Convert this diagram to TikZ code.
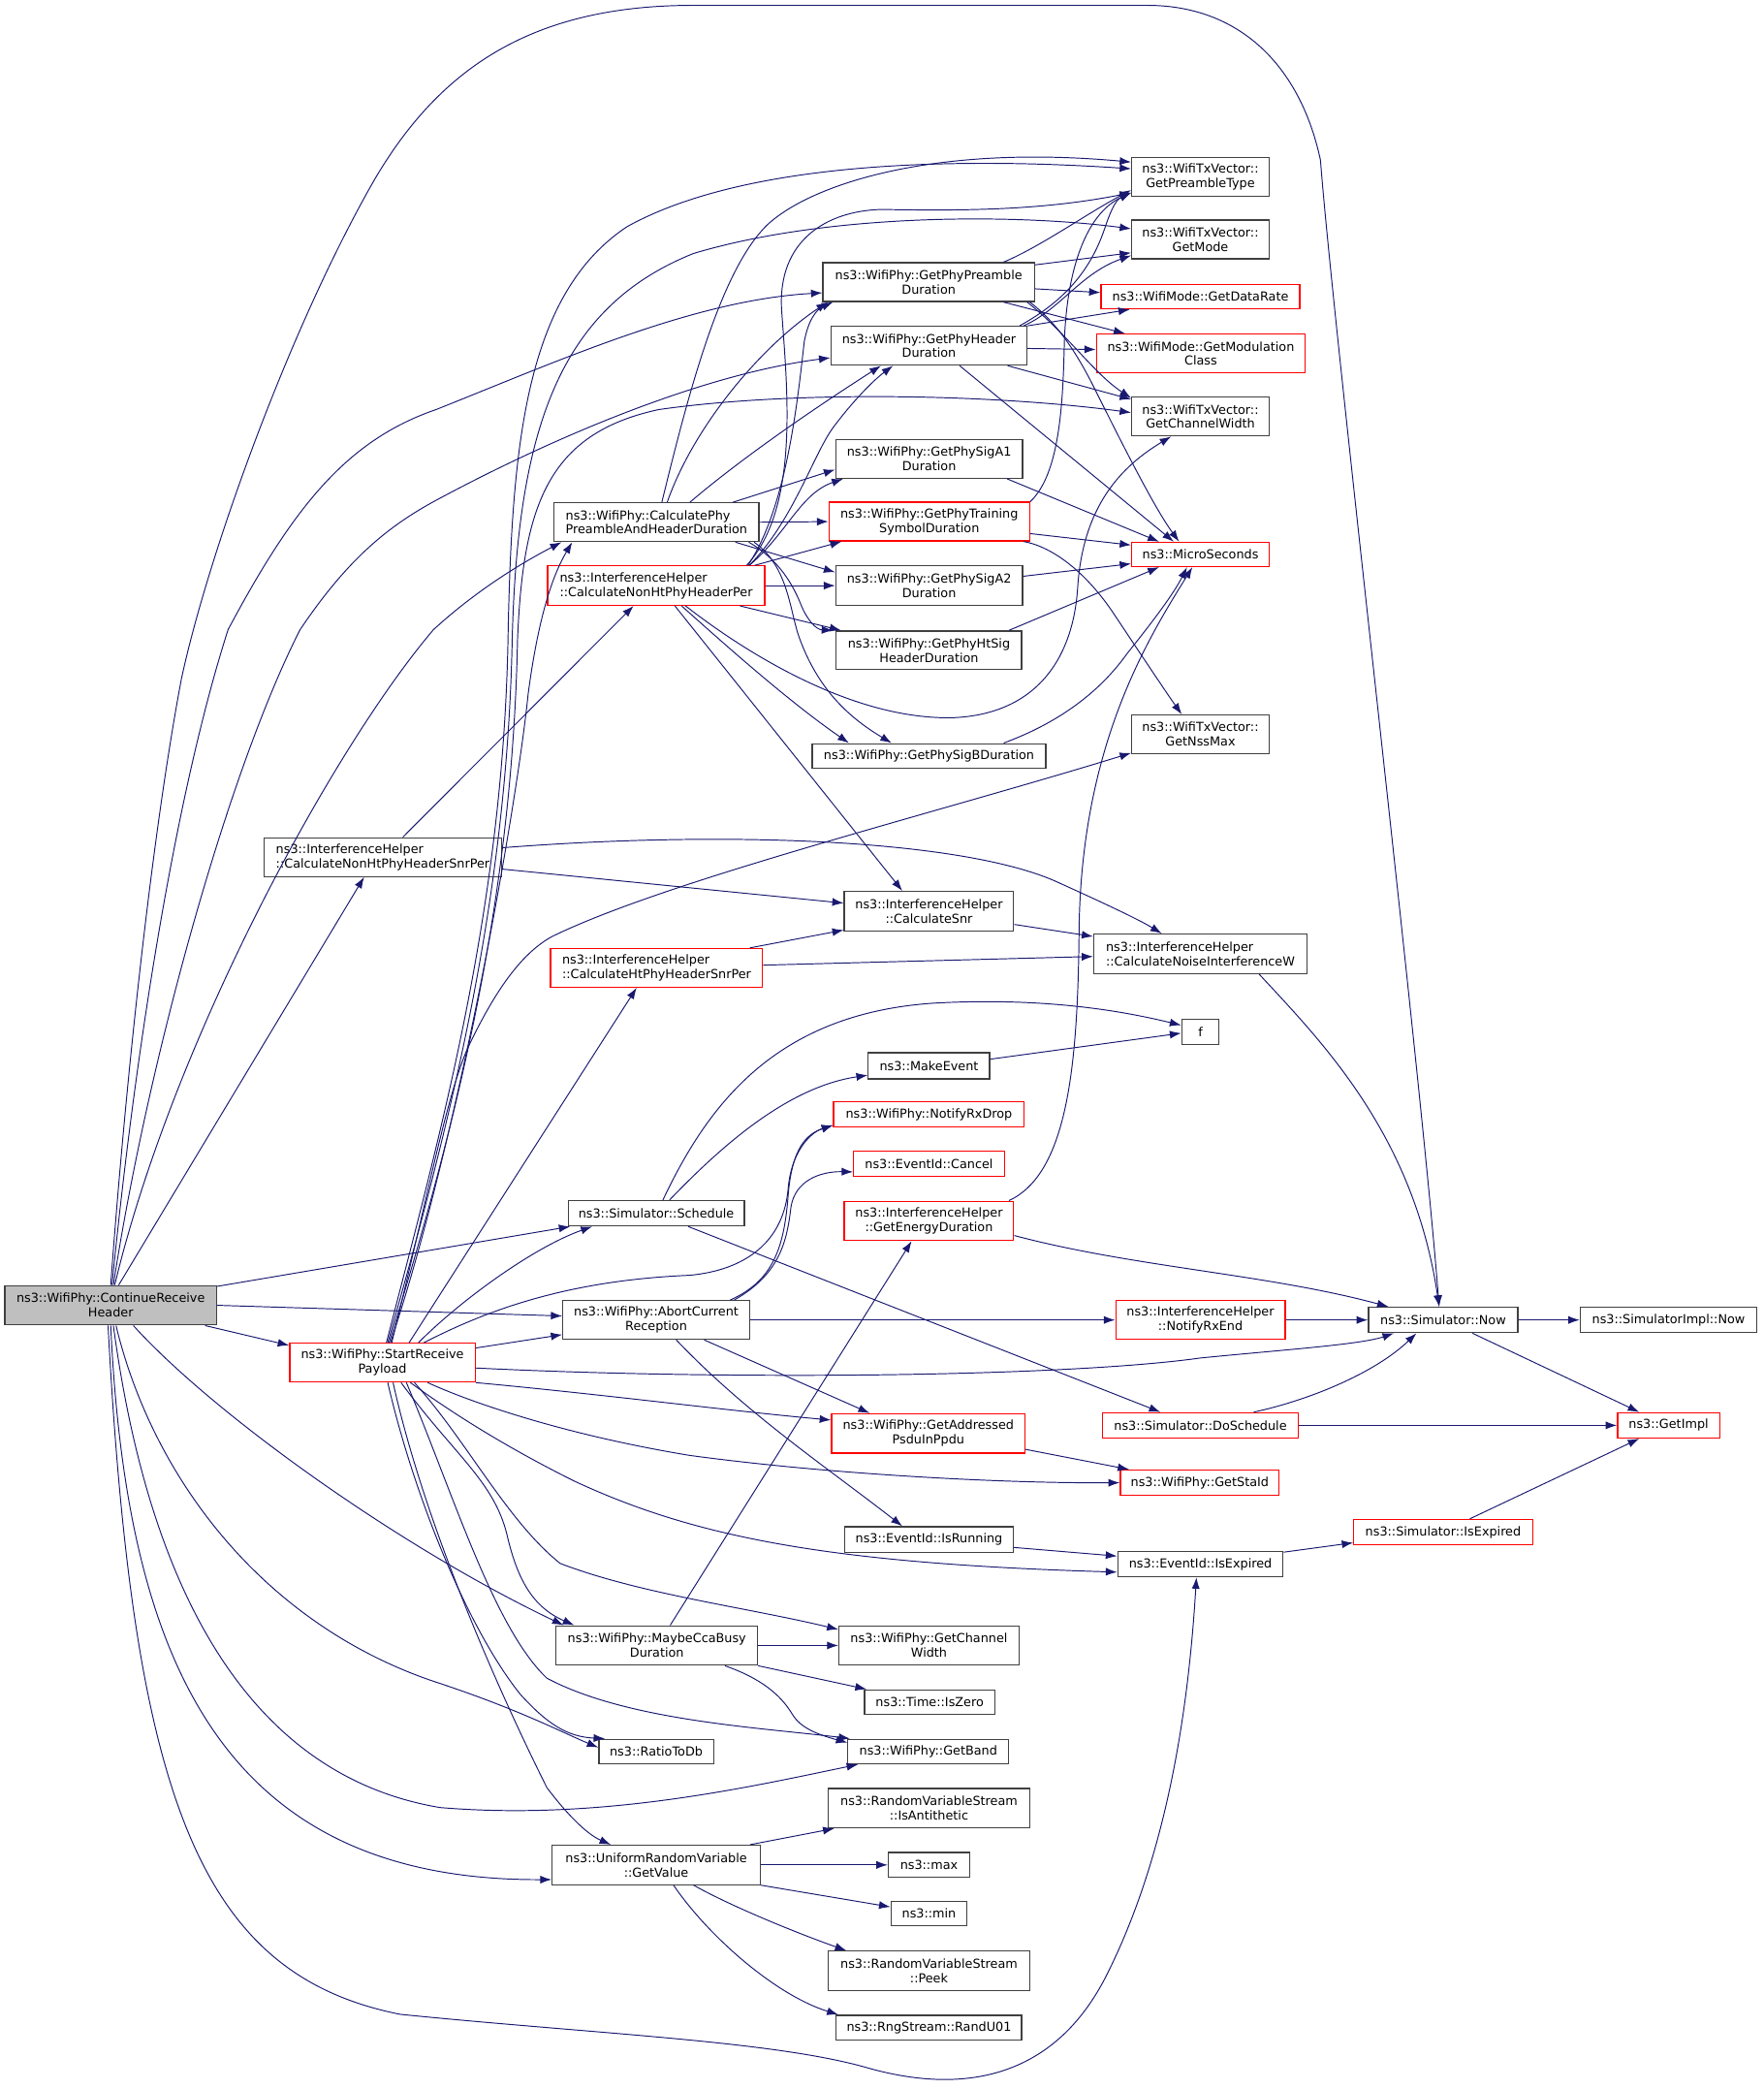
\documentclass[tikz,border=0pt]{standalone}
\usepackage{fontspec}
\setmainfont{DejaVu Sans}
\usetikzlibrary{arrows.meta}
\definecolor{dxedge}{RGB}{25,25,112}
\definecolor{dxborder}{RGB}{64,64,64}
\definecolor{dxred}{RGB}{255,0,0}
\definecolor{dxgray}{RGB}{191,191,191}
\tikzset{
  fn/.style={rectangle, draw=dxborder, line width=0.9pt, fill=white, inner sep=1pt, align=center, font=\fontsize{9.3}{10.8}\selectfont},
  fnred/.style={fn, draw=dxred},
  fncur/.style={fn, fill=dxgray},
  sz/.style 2 args={minimum width=#1pt, minimum height=#2pt},
  call/.style={draw=dxedge, line width=0.7pt, -{Latex[length=8.5pt,width=6pt]}}
}

\begin{document}
\begin{tikzpicture}[x=1pt,y=-1pt]
\useasboundingbox (0,0) rectangle (1322,1566);

% caller
\node[fncur, sz={158.7}{29.5}] (crh) at (83,978.5) {ns3::WifiPhy::ContinueReceive\\Header};

% first level
\node[fn, sz={153.5}{29}, align=left] (cpphd) at (492.2,391.5) {ns3::WifiPhy::CalculatePhy\\PreambleAndHeaderDuration};
\node[fnred, sz={162.7}{29.5}, align=left] (cnhphp) at (492,439) {ns3::InterferenceHelper\\::CalculateNonHtPhyHeaderPer};
\node[fn, sz={178}{29}, align=left] (cnhsnr) at (287,642.5) {ns3::InterferenceHelper\\::CalculateNonHtPhyHeaderSnrPer};
\node[fnred, sz={159}{29}, align=left] (chtsnr) at (492.3,725.5) {ns3::InterferenceHelper\\::CalculateHtPhyHeaderSnrPer};
\node[fn, sz={132}{19}] (sched) at (492,909.5) {ns3::Simulator::Schedule};
\node[fn, sz={140}{29}] (acr) at (492,989.5) {ns3::WifiPhy::AbortCurrent\\Reception};
\node[fnred, sz={139}{29}] (srp) at (286.7,1021.5) {ns3::WifiPhy::StartReceive\\Payload};
\node[fn, sz={151}{29.5}] (mcbd) at (492.5,1233.5) {ns3::WifiPhy::MaybeCcaBusy\\Duration};
\node[fn, sz={86}{18.5}] (r2db) at (492,1313) {ns3::RatioToDb};
\node[fn, sz={156}{29.5}] (urvgv) at (492,1398) {ns3::UniformRandomVariable\\::GetValue};

% second level
\node[fn, sz={158.6}{29}] (gppd) at (696.3,211.5) {ns3::WifiPhy::GetPhyPreamble\\Duration};
\node[fn, sz={147}{29}] (gphd) at (696.5,259.2) {ns3::WifiPhy::GetPhyHeader\\Duration};
\node[fn, sz={140}{29}] (gsa1) at (696.6,344) {ns3::WifiPhy::GetPhySigA1\\Duration};
\node[fnred, sz={150.5}{29}] (gtsd) at (696.7,391) {ns3::WifiPhy::GetPhyTraining\\SymbolDuration};
\node[fn, sz={140}{29.5}] (gsa2) at (696.6,439) {ns3::WifiPhy::GetPhySigA2\\Duration};
\node[fn, sz={139}{29}] (ghts) at (696.5,487.5) {ns3::WifiPhy::GetPhyHtSig\\HeaderDuration};
\node[fn, sz={175}{18.3}] (gsigb) at (696.5,566.6) {ns3::WifiPhy::GetPhySigBDuration};
\node[fn, sz={127}{29.5}] (csnr) at (696.5,683) {ns3::InterferenceHelper\\::CalculateSnr};
\node[fn, sz={91}{19.5}] (mkev) at (696.5,799) {ns3::MakeEvent};
\node[fnred, sz={143}{19}] (nrxd) at (696.5,835.5) {ns3::WifiPhy::NotifyRxDrop};
\node[fnred, sz={113}{19}] (evc) at (696.5,872.5) {ns3::EventId::Cancel};
\node[fnred, sz={127}{29.5}] (ged) at (696.5,915.2) {ns3::InterferenceHelper\\::GetEnergyDuration};
\node[fnred, sz={145}{29.5}] (gapp) at (696,1074.5) {ns3::WifiPhy::GetAddressed\\PsduInPpdu};
\node[fn, sz={126}{19}] (evrun) at (696.5,1154) {ns3::EventId::IsRunning};
\node[fn, sz={135}{29.5}] (wcw) at (696.5,1233.5) {ns3::WifiPhy::GetChannel\\Width};
\node[fn, sz={97.6}{18.5}] (iszero) at (697,1276) {ns3::Time::IsZero};
\node[fn, sz={120.5}{18.5}] (gband) at (696,1313) {ns3::WifiPhy::GetBand};
\node[fn, sz={151}{29.5}] (isanti) at (696.5,1355.5) {ns3::RandomVariableStream\\::IsAntithetic};
\node[fn, sz={61}{18.5}] (max) at (696.5,1398) {ns3::max};
\node[fn, sz={57}{18.5}] (min) at (696.5,1434.5) {ns3::min};
\node[fn, sz={151}{29.7}] (peek) at (696.5,1477.5) {ns3::RandomVariableStream\\::Peek};
\node[fn, sz={139}{18.5}] (rand) at (696.5,1520) {ns3::RngStream::RandU01};

% third level
\node[fn, sz={103}{29}] (gpt) at (900,132.5) {ns3::WifiTxVector::\\GetPreambleType};
\node[fn, sz={103}{29}] (gmode) at (900,179.5) {ns3::WifiTxVector::\\GetMode};
\node[fnred, sz={149}{18.5}] (gdr) at (900,222.3) {ns3::WifiMode::GetDataRate};
\node[fnred, sz={156.6}{29}] (gmc) at (900.3,265) {ns3::WifiMode::GetModulation\\Class};
\node[fn, sz={103}{29}] (gcw) at (900,312.3) {ns3::WifiTxVector::\\GetChannelWidth};
\node[fnred, sz={103}{18.2}] (micro) at (900,415.6) {ns3::MicroSeconds};
\node[fn, sz={103}{29}] (gnss) at (900,550.5) {ns3::WifiTxVector::\\GetNssMax};
\node[fn, sz={160}{29.5}, align=left] (cniw) at (900,715) {ns3::InterferenceHelper\\::CalculateNoiseInterferenceW};
\node[fn, sz={28}{19}] (f) at (900,773.5) {f};
\node[fnred, sz={127}{29}] (nrxe) at (900,989.5) {ns3::InterferenceHelper\\::NotifyRxEnd};
\node[fnred, sz={146.5}{19}] (dosch) at (900,1068.5) {ns3::Simulator::DoSchedule};
\node[fnred, sz={119}{19}] (gsta) at (899.5,1111.5) {ns3::WifiPhy::GetStaId};
\node[fn, sz={124}{19}] (evexp) at (900,1172.5) {ns3::EventId::IsExpired};

% right column
\node[fn, sz={112}{19}] (now) at (1082,989.5) {ns3::Simulator::Now};
\node[fnred, sz={134}{19}] (simexp) at (1082,1148.5) {ns3::Simulator::IsExpired};
\node[fn, sz={132.5}{19}] (simpnow) at (1251,989.5) {ns3::SimulatorImpl::Now};
\node[fnred, sz={76.5}{19}] (gimpl) at (1251,1068.5) {ns3::GetImpl};

% calls from ContinueReceiveHeader
\draw[call] (crh.north) .. controls (95,800) and (115,620) .. (136,509) .. controls (155,420) and (215,250) .. (280,136) .. controls (330,50) and (400,4) .. (520,4) -- (860,4) .. controls (930,4) and (975,50) .. (990,120) .. controls (1000,250) and (1065,800) .. ([xshift=-3pt]now.north);
\draw[call] ([xshift=1pt]crh.north) .. controls (100,800) and (130,600) .. (171,472) .. controls (220,380) and (260,330) .. (327,307) .. controls (420,270) and (520,225) .. ([yshift=-8pt]gppd.west);
\draw[call] ([xshift=2pt]crh.north) .. controls (110,800) and (170,580) .. (225,472) .. controls (260,420) and (290,395) .. (327,375) .. controls (420,325) and (530,280) .. ([yshift=-9pt]gphd.west);
\draw[call] ([xshift=3pt]crh.north) .. controls (130,780) and (250,560) .. (325,472) .. controls (360,440) and (395,420) .. ([xshift=6pt]cpphd.south west);
\draw[call] ([xshift=6pt]crh.north) -- ([xshift=-14pt]cnhsnr.south);
\draw[call] ([yshift=-1pt]crh.north east) -- ([xshift=2pt]sched.south west);
\draw[call] (crh.east) -- ([yshift=3pt]acr.west);
\draw[call] ([xshift=-9pt]crh.south east) -- ([yshift=-2pt]srp.north west);
\draw[call] ([xshift=17pt]crh.south) .. controls (160,1060) and (300,1160) .. ([xshift=-70pt]mcbd.north);
\draw[call] ([xshift=4pt]crh.south) .. controls (115,1110) and (200,1220) .. (330,1262) .. controls (390,1282) and (420,1298) .. ([yshift=3pt]r2db.west);
\draw[call] ([xshift=2pt]crh.south) .. controls (110,1180) and (180,1330) .. (330,1355) .. controls (450,1365) and (560,1340) .. ([xshift=8pt]gband.south west);
\draw[call] (crh.south) .. controls (95,1250) and (170,1410) .. ([yshift=-11pt]urvgv.west);
\draw[call] ([xshift=-2pt]crh.south) .. controls (100,1350) and (150,1480) .. (300,1510) .. controls (450,1525) and (580,1530) .. (650,1550) .. controls (720,1570) and (790,1560) .. (830,1480) .. controls (870,1400) and (890,1300) .. ([xshift=-3pt]evexp.south);

% calls from StartReceivePayload
\draw[call] ([xshift=3pt]srp.north) .. controls (330,850) and (378,680) .. (381,472) .. controls (384,330) and (395,220) .. (470,170) .. controls (560,120) and (720,118) .. ([yshift=6pt]gpt.west);
\draw[call] ([xshift=4pt]srp.north) .. controls (335,850) and (380,680) .. (384,480) .. controls (388,320) and (420,230) .. (520,190) .. controls (620,160) and (760,160) .. ([yshift=8pt]gmode.west);
\draw[call] ([xshift=5pt]srp.north) .. controls (340,850) and (384,680) .. (388,480) .. controls (392,380) and (410,325) .. (494,307) .. controls (600,292) and (750,296) .. ([yshift=3pt]gcw.west);
\draw[call] ([xshift=6pt]srp.north) .. controls (345,850) and (388,600) .. (396,520) .. controls (404,460) and (415,430) .. ([xshift=14pt]cpphd.south west);
\draw[call] ([xshift=7pt]srp.north) .. controls (320,900) and (335,820) .. (351,785) .. controls (370,745) and (390,715) .. (414,702) .. controls (500,660) and (700,610) .. ([yshift=1pt]gnss.south west);
\draw[call] ([xshift=20pt]srp.north) -- ([xshift=-15pt]chtsnr.south);
\draw[call] ([xshift=27pt]srp.north) .. controls (345,975) and (400,935) .. ([xshift=-48pt]sched.south);
\draw[call] ([xshift=31pt]srp.north) .. controls (360,985) and (420,960) .. (517,956) .. controls (560,952) and (588,930) .. (591,890) .. controls (594,860) and (610,848) .. ([yshift=-8pt]nrxd.west);
\draw[call] ([yshift=11pt]srp.east) -- ([yshift=-11pt]acr.west);
\draw[call] ([yshift=-4pt]srp.east) .. controls (550,1035) and (800,1032) .. (900,1018) .. controls (960,1012) and (1020,1008) .. ([xshift=-37pt]now.south);
\draw[call] (srp.south east) .. controls (450,1045) and (550,1058) .. ([yshift=10pt]gapp.west);
\draw[call] ([xshift=34pt]srp.south) .. controls (350,1050) and (420,1075) .. (517,1091) .. controls (620,1105) and (750,1112) .. (gsta.west);
\draw[call] ([xshift=21pt]srp.south) .. controls (340,1060) and (380,1085) .. (430,1110) .. controls (520,1152) and (620,1172) .. ([yshift=-6pt]evexp.west);
\draw[call] ([xshift=14pt]srp.south) .. controls (340,1090) and (370,1110) .. (380,1150) .. controls (388,1185) and (400,1205) .. ([xshift=-62pt]mcbd.north);
\draw[call] ([xshift=24pt]srp.south) .. controls (350,1080) and (380,1140) .. (420,1172) .. controls (480,1195) and (560,1205) .. ([yshift=12pt]wcw.west);
\draw[call] ([xshift=4pt]srp.south) .. controls (310,1120) and (350,1220) .. (390,1270) .. controls (410,1292) and (425,1302) .. ([xshift=5pt]r2db.north west);
\draw[call] ([xshift=18pt]srp.south) .. controls (340,1120) and (370,1220) .. (410,1258) .. controls (470,1290) and (570,1295) .. ([xshift=2pt]gband.north west);
\draw[call] ([xshift=8pt]srp.south) .. controls (320,1150) and (380,1280) .. (410,1340) .. controls (425,1360) and (440,1375) .. ([xshift=-34pt]urvgv.north);

% calls from CalculatePhyPreambleAndHeaderDuration
\draw[call] ([xshift=4pt]cpphd.north) .. controls (515,300) and (540,200) .. (577,167) .. controls (610,138) and (700,108) .. ([yshift=11pt]gpt.west);
\draw[call] ([xshift=8pt]cpphd.north) .. controls (520,320) and (570,260) .. ([xshift=4pt]gppd.south west);
\draw[call] ([xshift=25pt]cpphd.north) .. controls (560,340) and (620,300) .. ([xshift=-36pt]gphd.south);
\draw[call] ([xshift=-20pt]cpphd.north east) -- ([yshift=-8pt]gsa1.west);
\draw[call] (cpphd.east) -- (gtsd.west);
\draw[call] ([xshift=-18pt]cpphd.south east) -- ([yshift=10pt]gsa2.west);
\draw[call] ([xshift=-8pt]cpphd.south east) .. controls (585,420) and (595,440) .. (600,452) .. controls (605,465) and (612,472) .. ([xshift=-2pt]ghts.north west);
\draw[call] ([xshift=-4pt]cpphd.south east) .. controls (592,425) and (592,460) .. (600,480) .. controls (615,520) and (640,540) .. ([xshift=-28pt]gsigb.north);

% calls from CalculateNonHtPhyHeaderPer
\draw[call] ([xshift=-14pt]cnhphp.north east) .. controls (600,380) and (590,290) .. (586,232) .. controls (583,180) and (620,158) .. (661,157) .. controls (720,158) and (780,158) .. ([yshift=-12pt]gpt.west);
\draw[call] ([xshift=-13pt]cnhphp.north east) .. controls (590,380) and (598,300) .. (603,256) .. controls (606,240) and (612,232) .. ([xshift=8pt]gppd.south west);
\draw[call] ([xshift=-12pt]cnhphp.north east) .. controls (595,390) and (610,340) .. (625,320) .. controls (640,300) and (655,285) .. ([xshift=-27pt]gphd.south);
\draw[call] ([xshift=-12pt]cnhphp.north east) .. controls (590,400) and (600,370) .. ([xshift=6pt]gsa1.south west);
\draw[call] ([xshift=-8pt]cnhphp.north east) -- ([xshift=10pt]gtsd.south west);
\draw[call] (cnhphp.east) -- (gsa2.west);
\draw[call] ([xshift=-19pt]cnhphp.south east) -- ([xshift=4pt]ghts.north west);
\draw[call] ([xshift=19pt]cnhphp.south) .. controls (540,480) and (590,525) .. ([xshift=-60pt]gsigb.north);
\draw[call] ([xshift=14pt]cnhphp.south) -- ([xshift=-20pt]csnr.north);
\draw[call] ([xshift=22pt]cnhphp.south) .. controls (560,490) and (640,540) .. (715,538) .. controls (780,535) and (805,490) .. (808,440) .. controls (812,380) and (840,350) .. ([xshift=-22pt]gcw.south);

% preamble and header durations
\draw[call] ([xshift=56pt]gppd.north) .. controls (780,185) and (815,160) .. ([yshift=-10pt]gpt.west);
\draw[call] ([yshift=-2pt]gppd.north east) -- ([yshift=-10pt]gmode.west);
\draw[call] ([yshift=-5pt]gppd.east) -- ([yshift=3pt]gdr.west);
\draw[call] ([xshift=56pt]gppd.south) -- ([xshift=22pt]gmc.north west);
\draw[call] ([xshift=-6pt]gppd.south east) .. controls (800,250) and (820,280) .. ([yshift=-1pt]gcw.north west);
\draw[call] ([xshift=-4pt]gppd.south east) .. controls (790,240) and (805,260) .. (820,290) .. controls (840,330) and (865,380) .. ([xshift=-16pt]micro.north);
\draw[call] ([xshift=-6pt]gphd.north east) .. controls (790,230) and (815,210) .. (828,172) .. controls (832,160) and (836,150) .. ([yshift=-12pt]gpt.west);
\draw[call] ([xshift=-3pt]gphd.north east) .. controls (795,232) and (810,205) .. ([yshift=-12pt]gmode.west);
\draw[call] (gphd.north east) -- ([xshift=22pt]gdr.south west);
\draw[call] ([yshift=-2pt]gphd.east) -- ([yshift=3pt]gmc.west);
\draw[call] ([xshift=-15pt]gphd.south east) -- ([yshift=-2pt]gcw.north west);
\draw[call] ([xshift=23pt]gphd.south) -- ([xshift=-20pt]micro.north);

% signal field durations
\draw[call] ([xshift=-12pt]gsa1.south east) -- ([xshift=-31pt]micro.north);
\draw[call] (gtsd.north east) .. controls (795,355) and (797,300) .. (798,256) .. controls (800,200) and (815,160) .. ([yshift=-12pt]gpt.west);
\draw[call] ([yshift=-9pt]gtsd.east) -- ([yshift=7pt]micro.west);
\draw[call] ([xshift=-5pt]gtsd.south east) .. controls (790,410) and (815,430) .. (835,460) .. controls (855,490) and (875,520) .. ([xshift=-14pt]gnss.north);
\draw[call] ([yshift=7pt]gsa2.east) -- ([yshift=-7pt]micro.west);
\draw[call] ([xshift=-10pt]ghts.north east) -- ([xshift=-31pt]micro.south);
\draw[call] ([xshift=56pt]gsigb.north) .. controls (785,545) and (820,525) .. (845,490) .. controls (865,465) and (880,445) .. ([xshift=-10pt]micro.south);
\draw[call] ([xshift=-4pt]ged.north east) .. controls (800,880) and (808,800) .. (809,700) .. controls (810,560) and (860,480) .. ([xshift=-6pt]micro.south);
\draw[call] ([yshift=-11pt]ged.east) .. controls (850,950) and (950,955) .. ([xshift=-41pt]now.north);

% snr and noise
\draw[call] ([xshift=15pt]cnhsnr.north) -- ([xshift=-17pt]cnhphp.south);
\draw[call] ([yshift=-9pt]cnhsnr.east) -- ([yshift=6pt]csnr.west);
\draw[call] ([yshift=7pt]cnhsnr.east) .. controls (550,622) and (720,630) .. (790,660) .. controls (830,678) and (855,690) .. ([xshift=-29pt]cniw.north);
\draw[call] ([yshift=-10pt]csnr.east) -- ([yshift=13pt]cniw.west);
\draw[call] ([xshift=-10pt]chtsnr.north east) -- ([yshift=1pt]csnr.south west);
\draw[call] ([yshift=2pt]chtsnr.east) -- ([yshift=-2pt]cniw.west);
\draw[call] ([xshift=44pt]cniw.south) .. controls (990,780) and (1060,850) .. ([xshift=-3pt]now.north);

% scheduling and abort
\draw[call] ([xshift=5pt]sched.north) .. controls (530,830) and (580,760) .. (700,752) .. controls (790,747) and (850,760) .. ([yshift=5pt]f.west);
\draw[call] ([xshift=10pt]sched.north) .. controls (540,860) and (590,815) .. ([yshift=-7pt]mkev.west);
\draw[call] ([yshift=5pt]mkev.east) -- ([yshift=-1pt]f.west);
\draw[call] ([xshift=24pt]sched.south) -- ([xshift=-30pt]dosch.north);
\draw[call] ([xshift=-15pt]acr.north east) .. controls (580,960) and (588,935) .. (591,895) .. controls (594,860) and (605,850) .. ([yshift=-8pt]nrxd.west);
\draw[call] ([xshift=-12pt]acr.north east) .. controls (585,955) and (590,930) .. (593,905) .. controls (596,885) and (615,878) .. ([yshift=-6pt]evc.west);
\draw[call] (acr.east) -- (nrxe.west);
\draw[call] ([xshift=36pt]acr.south) -- ([xshift=-44pt]gapp.north);
\draw[call] ([xshift=15pt]acr.south) .. controls (560,1060) and (620,1100) .. ([xshift=-20pt]evrun.north);

% simulator
\draw[call] (nrxe.east) -- (now.west);
\draw[call] (now.east) -- (simpnow.west);
\draw[call] ([xshift=22pt]now.south) -- ([xshift=-22pt]gimpl.north);
\draw[call] ([xshift=40pt]dosch.north) .. controls (980,1050) and (1030,1030) .. ([xshift=-20pt]now.south);
\draw[call] (dosch.east) -- (gimpl.west);
\draw[call] ([yshift=-12pt]gapp.east) -- ([xshift=7pt]gsta.north west);
\draw[call] ([yshift=-6pt]evrun.east) -- ([yshift=6pt]evexp.west);
\draw[call] ([yshift=-1pt]evexp.north east) -- ([yshift=-8pt]simexp.west);
\draw[call] ([xshift=20pt]simexp.north) -- ([xshift=-22pt]gimpl.south);

% cca busy and random values
\draw[call] ([xshift=10pt]mcbd.north) -- ([xshift=-13pt]ged.south);
\draw[call] (mcbd.east) -- (wcw.west);
\draw[call] (mcbd.south east) -- ([xshift=2pt]iszero.north west);
\draw[call] ([xshift=51pt]mcbd.south) .. controls (570,1258) and (585,1270) .. (594,1285) .. controls (600,1295) and (612,1300) .. ([yshift=-3pt]gband.north west);
\draw[call] ([xshift=-8pt]urvgv.north east) -- ([xshift=5pt]isanti.south west);
\draw[call] (urvgv.east) -- (max.west);
\draw[call] (urvgv.south east) -- ([yshift=5pt]min.west);
\draw[call] ([xshift=28pt]urvgv.south) .. controls (550,1430) and (600,1450) .. ([xshift=14pt]peek.north west);
\draw[call] ([xshift=13pt]urvgv.south) .. controls (530,1450) and (580,1495) .. ([xshift=2pt]rand.north west);
\end{tikzpicture}
\end{document}
